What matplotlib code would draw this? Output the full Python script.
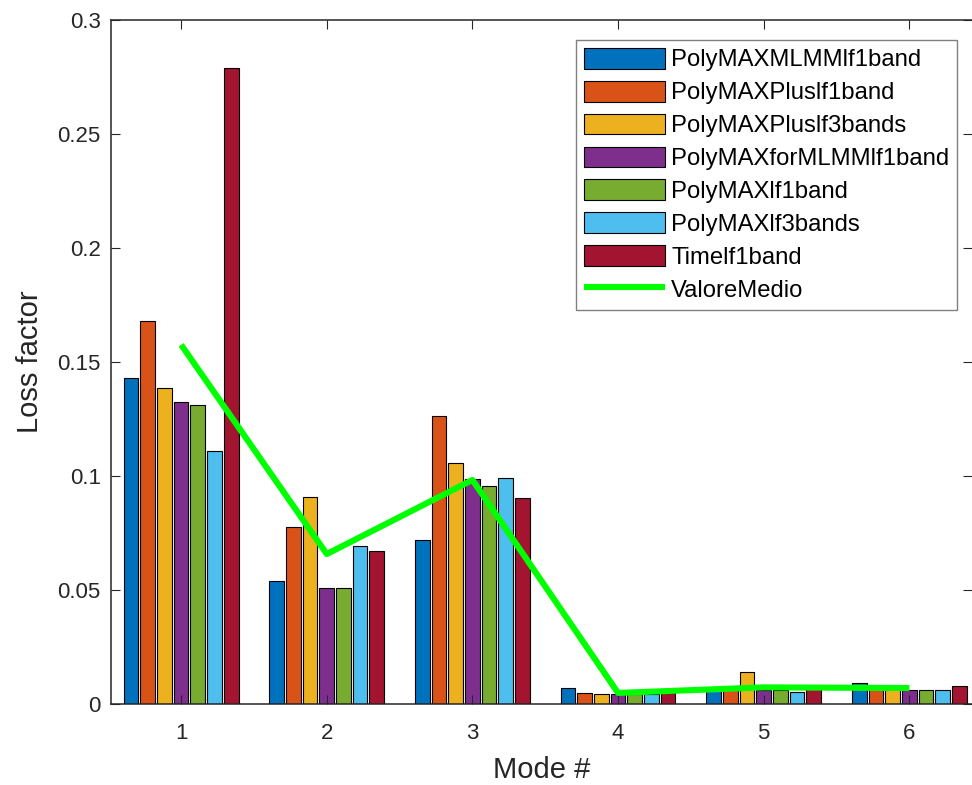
import numpy as np
import matplotlib
matplotlib.use("Agg")
import matplotlib.pyplot as plt

plt.rcParams["font.family"] = ["Liberation Sans", "DejaVu Sans"]

modes = [1, 2, 3, 4, 5, 6]
series = [
    "PolyMAXMLMMlf1band",
    "PolyMAXPluslf1band",
    "PolyMAXPluslf3bands",
    "PolyMAXforMLMMlf1band",
    "PolyMAXlf1band",
    "PolyMAXlf3bands",
    "Timelf1band",
]
poly_mlmm_1 = [0.1430, 0.0538, 0.0721, 0.0069, 0.0065, 0.0091]
plus_1 = [0.1680, 0.0776, 0.1264, 0.0048, 0.0064, 0.0068]
plus_3 = [0.1386, 0.0907, 0.1055, 0.0045, 0.0139, 0.0068]
for_mlmm_1 = [0.1323, 0.0510, 0.0985, 0.0042, 0.0061, 0.0061]
poly_1 = [0.1312, 0.0508, 0.0958, 0.0043, 0.0061, 0.0061]
poly_3 = [0.1108, 0.0692, 0.0992, 0.0045, 0.0053, 0.0061]
time_1 = [0.2789, 0.0673, 0.0903, 0.0047, 0.0068, 0.0080]
values = [poly_mlmm_1, plus_1, plus_3, for_mlmm_1, poly_1, poly_3, time_1]
mean_value = np.mean(np.array(values), axis=0)

colors = ["#0072BD", "#D95319", "#EDB120", "#7E2F8E", "#77AC30", "#4DBEEE", "#A2142F"]
TXT = "#262626"

fig = plt.figure(figsize=(9.72, 7.85), dpi=100, facecolor="white")
ax = fig.add_axes([110.5 / 972, 81 / 785, 1 - 110.5 / 972, 684 / 785])

pitch = 0.1145
x = np.array(modes, dtype=float)
handles = []
for i, (name, vals) in enumerate(zip(series, values)):
    h = ax.bar(x + (i - 3) * pitch, vals, width=0.101, color=colors[i],
               edgecolor="black", linewidth=0.8, label=name, zorder=1)
    handles.append(h)

line, = ax.plot(modes, mean_value, color="#00FF00", lw=4.4, label="ValoreMedio",
                zorder=3, solid_capstyle="butt")
handles.append(line)

ax.set_xlim(0.515, 6.43)
ax.set_ylim(0, 0.3)
ax.set_xticks(modes)
ax.set_xticklabels([str(m) for m in modes])
ax.set_yticks([0, 0.05, 0.1, 0.15, 0.2, 0.25, 0.3])
ax.set_yticklabels(["0", "0.05", "0.1", "0.15", "0.2", "0.25", "0.3"])
ax.tick_params(direction="in", length=6.5, width=0.8, colors=TXT,
               labelsize=16, top=True, right=True, pad=7)
ax.tick_params(axis="x", pad=14)
for s in ax.spines.values():
    s.set_color(TXT)
    s.set_linewidth(1.1)
ax.spines["right"].set_visible(False)

ax.set_xlabel("Mode #", fontsize=21, color=TXT, labelpad=8)
ax.set_ylabel("Loss factor", fontsize=21, color=TXT, labelpad=10)

leg = ax.legend(handles=handles, labels=series + ["ValoreMedio"],
                loc="upper left", bbox_to_anchor=(576 / 972, 1 - 40 / 785),
                bbox_transform=fig.transFigure, borderaxespad=0,
                fontsize=17.2, handlelength=3.4, handleheight=0.96,
                handletextpad=0.25, labelspacing=0.39, borderpad=0.33,
                fancybox=False, framealpha=1, edgecolor="#808080")
leg.get_frame().set_linewidth(1.0)

fig.savefig("out.png", dpi=100, facecolor="white")
